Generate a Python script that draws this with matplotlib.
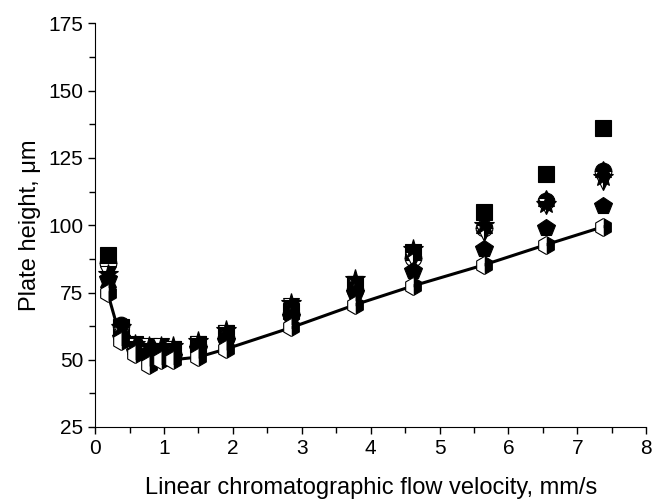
import numpy as np
import matplotlib.pyplot as plt
from matplotlib.ticker import MultipleLocator

plt.rcParams['font.family'] = ['Liberation Sans', 'DejaVu Sans']

# linear flow velocity, mm/s
velocity = [0.18, 0.38, 0.58, 0.78, 0.95, 1.13, 1.5, 1.9, 2.85, 3.78, 4.62, 5.65, 6.55, 7.37]

# plate heights, um (one list per column)
h_square = [89, 62, 56, 54, 54, 54, 56, 60, 68, 78, 90, 105, 119, 136]
h_circle = [86, 63, 55, 53, 52, 52, 55, 58, 67, 76, 88, 99, 109, 120]
h_tri_up = [80, 61, 55, 54, 53, 53, 56, 60, 70, 79, 90, 100, 110, 121]
h_tri_down = [82, 60, 55, 55, 55, 54, 56, 60, 70, 78, 87, 97, 107, 116]
h_star = [82, 62, 56, 55, 55, 55, 57, 61, 71, 80, 91, 100, 108, 118]
h_pentagon = [80, 58, 53, 51, 51, 51, 54, 57, 66, 75, 83, 91, 99, 107]
h_hexagon = [75, 57, 52, 48, 50, 50, 51, 54, 62, 70.5, 77.5, 85.3, 92.8, 99.4]

fig = plt.figure(figsize=(6.56, 5.0), dpi=100)
ax = fig.add_axes([0.145, 0.146, 0.84, 0.807])

ax.plot(velocity, h_hexagon, '-', color='black', lw=2.2, zorder=2)

ms = 12
kw = dict(ls='none', markeredgecolor='black', markeredgewidth=0.8, zorder=3)
ax.plot(velocity, h_square, marker='s', ms=ms - 1, markerfacecolor='black', **kw)
ax.plot(velocity, h_circle, marker='o', ms=ms, markerfacecolor='black',
        fillstyle='top', markerfacecoloralt='white', **kw)
ax.plot(velocity, h_tri_up, marker='^', ms=ms, markerfacecolor='black', **kw)
ax.plot(velocity, h_tri_down, marker='v', ms=ms, markerfacecolor='black',
        fillstyle='right', markerfacecoloralt='white', **kw)
ax.plot(velocity, h_star, marker='*', ms=ms + 3, markerfacecolor='black', **kw)
ax.plot(velocity, h_pentagon, marker='p', ms=ms + 1, markerfacecolor='black', **kw)
ax.plot(velocity, h_hexagon, marker='h', ms=ms + 1, markerfacecolor='black',
        fillstyle='right', markerfacecoloralt='white', **kw)

ax.set_xlim(0, 8)
ax.set_ylim(25, 175)
ax.xaxis.set_major_locator(MultipleLocator(1))
ax.xaxis.set_minor_locator(MultipleLocator(0.5))
ax.yaxis.set_major_locator(MultipleLocator(25))
ax.yaxis.set_minor_locator(MultipleLocator(12.5))
ax.spines['top'].set_visible(False)
ax.spines['right'].set_visible(False)
ax.tick_params(which='major', direction='out', length=5, width=1, labelsize=15)
ax.tick_params(which='minor', direction='out', length=4, width=1)
ax.set_xlabel('Linear chromatographic flow velocity, mm/s', fontsize=17, labelpad=14)
ax.set_ylabel('Plate height, \u03bcm', fontsize=17, labelpad=5)

fig.savefig('out.png', dpi=100)
